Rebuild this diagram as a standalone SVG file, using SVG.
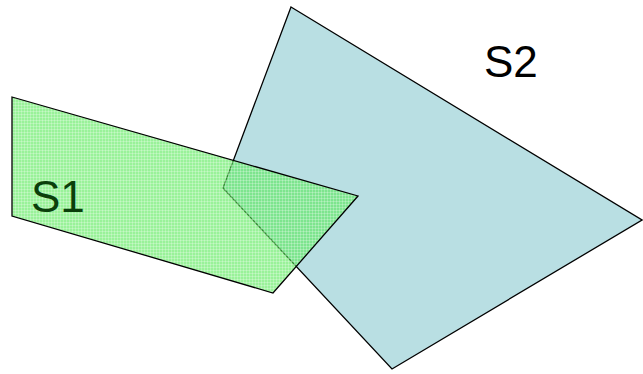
<svg xmlns="http://www.w3.org/2000/svg" width="643" height="374" viewBox="0 0 643 374">
  <style>
    .edge { stroke: #000; stroke-width: 1.3; stroke-linejoin: miter; }
    .lbl { font-family: "Liberation Sans", Arial, sans-serif; font-size: 44px; }
  </style>
  <defs>
    <pattern id="dots" x="0" y="0" width="3" height="3" patternUnits="userSpaceOnUse">
      <rect x="0" y="0" width="3" height="3" fill="#55ea55" fill-opacity="0.6"/>
      <rect x="0" y="0" width="3" height="1" fill="#ffffff" fill-opacity="0.25"/>
      <rect x="0" y="0" width="1" height="3" fill="#ffffff" fill-opacity="0.25"/>
    </pattern>
  </defs>
  <rect width="643" height="374" fill="#ffffff"/>
  <g id="S2">
    <polygon class="edge" points="291,7 642,220 392,369 223,188" fill="#b9dfe3"/>
    <text class="lbl" x="484" y="77" fill="#000">S2</text>
  </g>
  <g id="S1">
    <polygon class="edge" points="12,97 358,196 273,293 12,216" fill="url(#dots)"/>
    <text class="lbl" x="31" y="212" fill="#0b3f0b">S1</text>
  </g>
  <g id="connectors"/>
</svg>
